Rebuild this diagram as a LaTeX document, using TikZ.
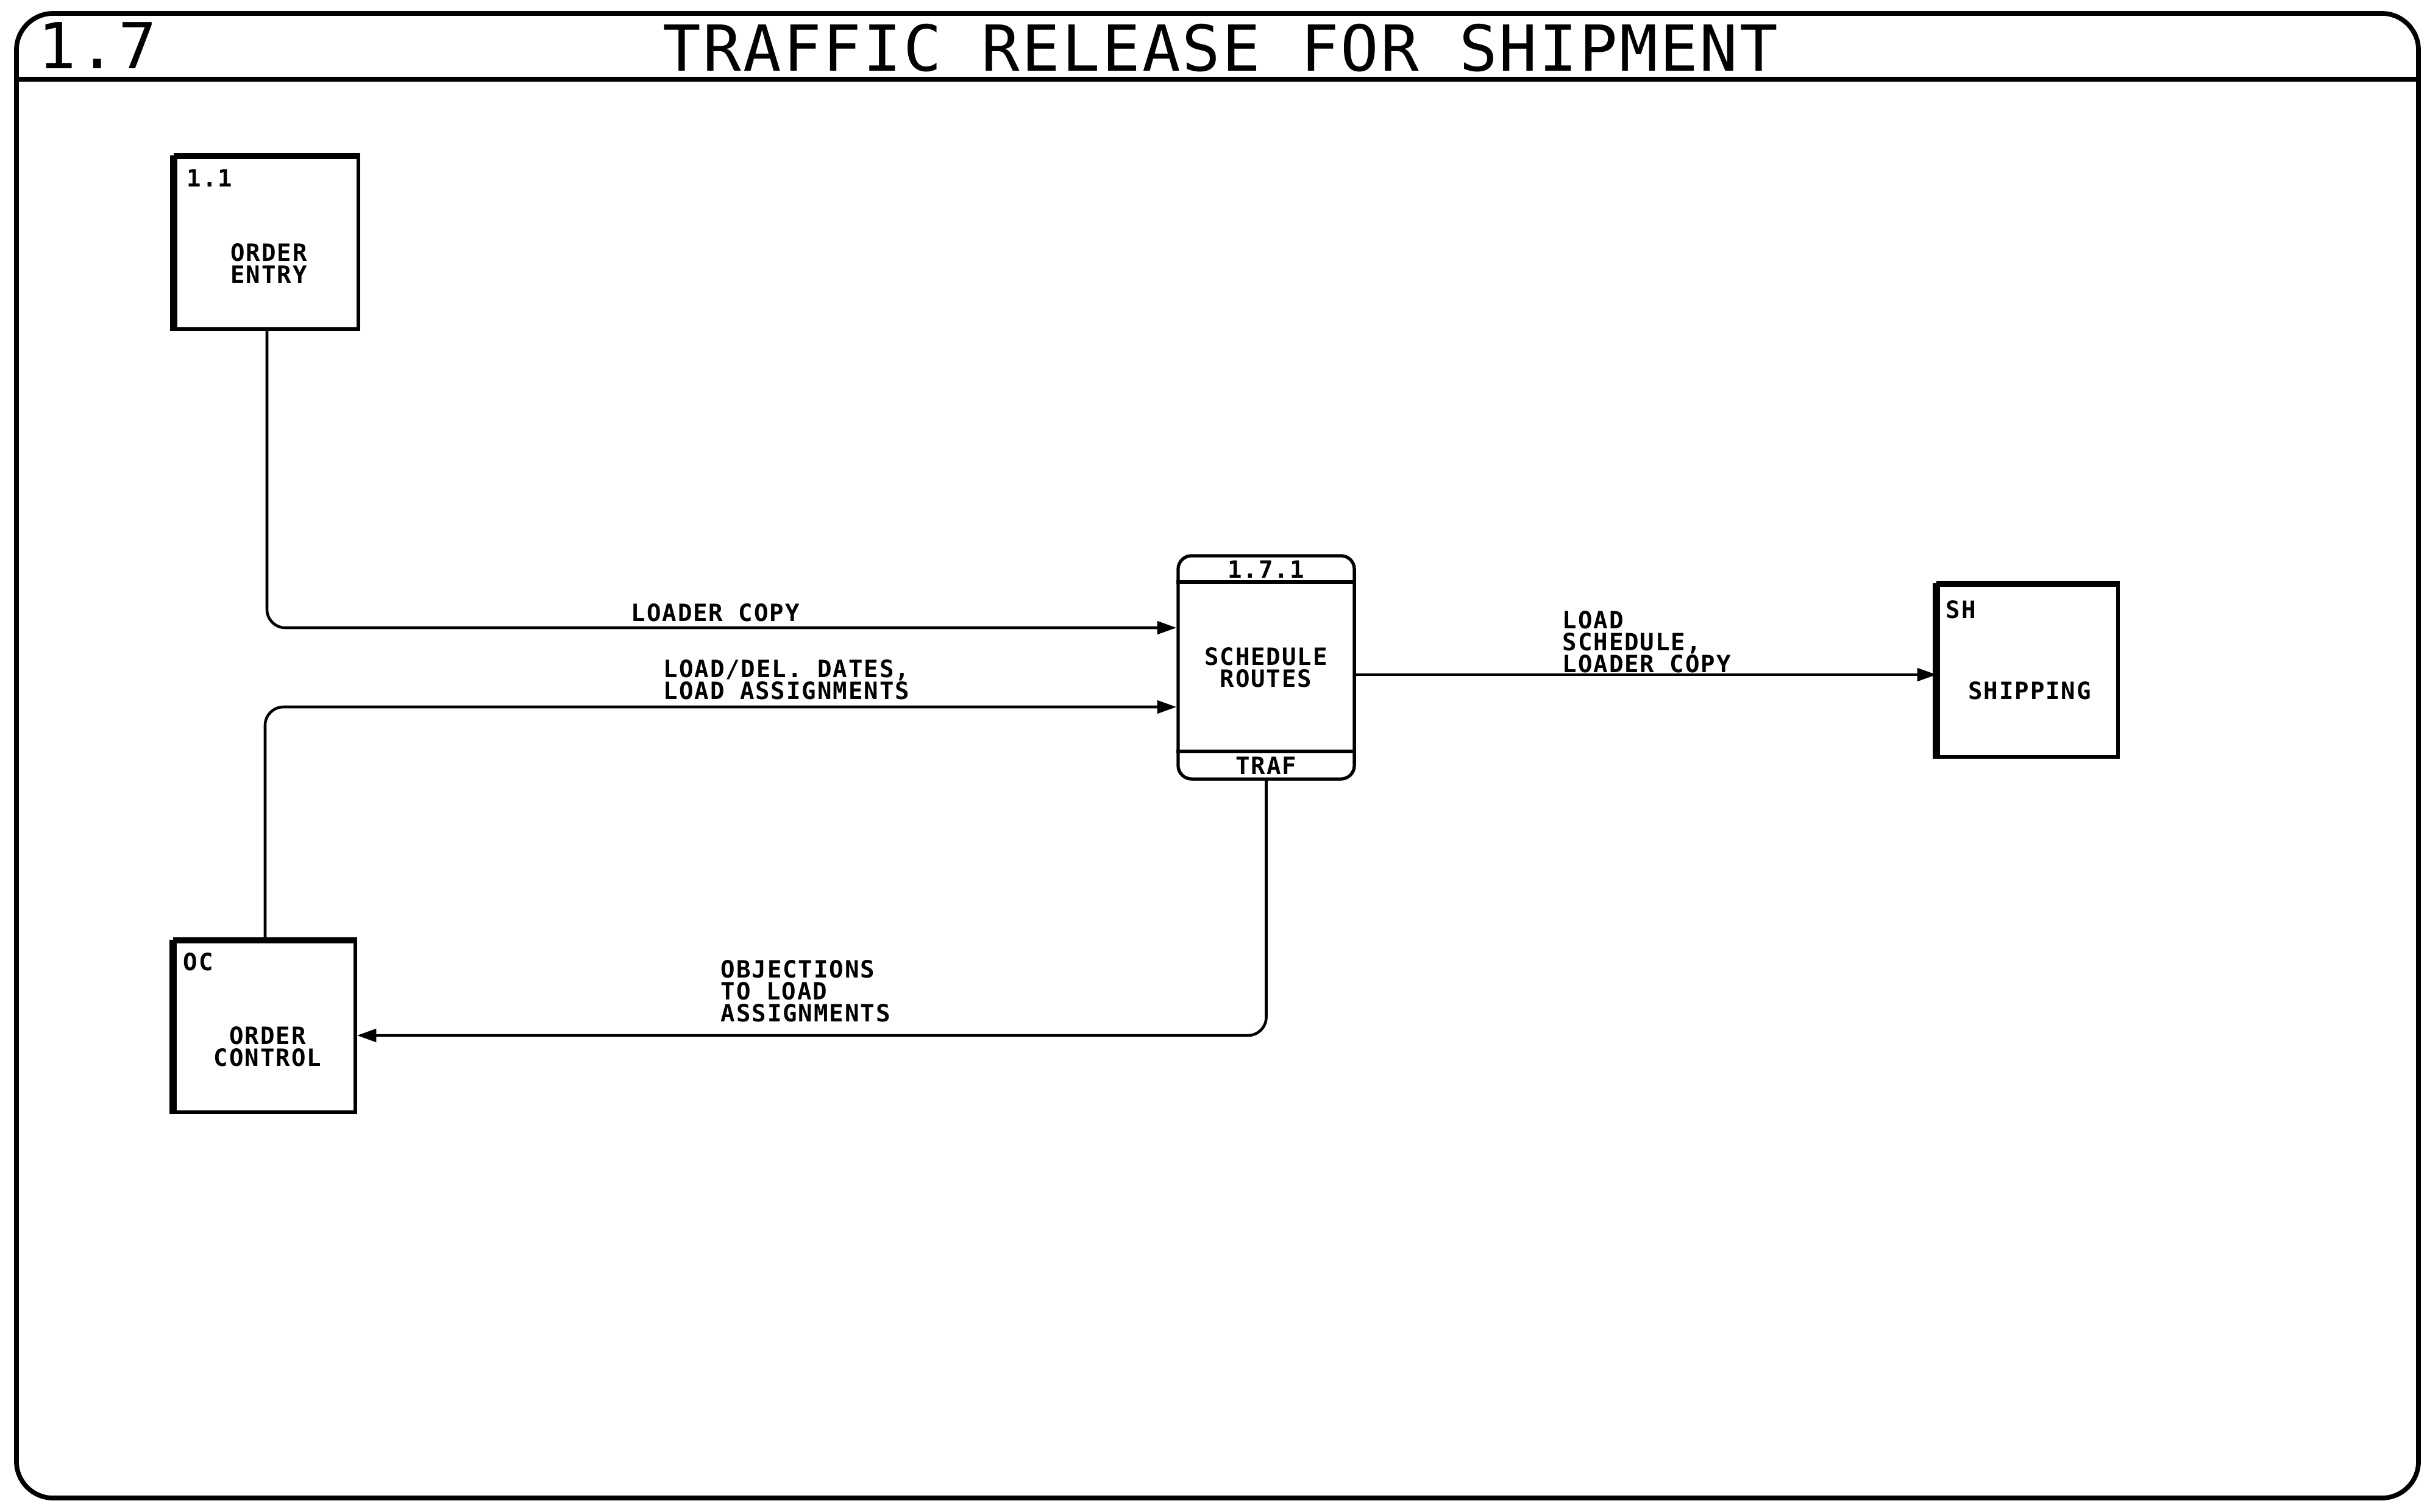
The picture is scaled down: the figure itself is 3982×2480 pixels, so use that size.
\documentclass[tikz,border=0pt]{standalone}
\usepackage{fontspec}
\usetikzlibrary{arrows.meta}
\newfontfamily\lblfont[LetterSpace=5]{DejaVu Sans Mono}
\newfontfamily\ttlfont[LetterSpace=3]{DejaVu Sans Mono}
\begin{document}
\begin{tikzpicture}[x=0.01cm,y=-0.01cm,
  lbl/.style={font=\fontsize{11.1pt}{10.24pt}\selectfont\lblfont\bfseries, inner sep=0pt, align=left},
  clbl/.style={lbl, align=center},
  ttl/.style={font=\fontsize{29.6pt}{30pt}\selectfont\ttlfont, inner sep=0pt},
  frame/.style={line width=2.2pt, rounded corners=0.6cm},
  ebox/.style={draw, line width=1.5pt, inner sep=0pt},
  pbox/.style={draw, line width=1.5pt, inner sep=0pt, rounded corners=0.22cm},
  leftedge/.style={line width=3.4pt},
  topedge/.style={line width=2.4pt},
  flow/.style={line width=1.3pt, rounded corners=0.3cm, -{Triangle[length=9pt,width=6pt]}}
]
\useasboundingbox (0,0) rectangle (3982,2480);

% outer frame and title band
\draw[frame] (27,22) rectangle (3968,2458);
\draw[line width=2.2pt] (27,130) -- (3968,130);
\node[ttl, anchor=base west] (num) at (62,112) {1.7};
\node[ttl, anchor=base west] (title) at (1087,116) {TRAFFIC RELEASE FOR SHIPMENT};

% external entity: order entry
\node[ebox, minimum width=3cm, minimum height=2.82cm] (oe) at (438,399) {};
\draw[leftedge] (oe.south west) -- (oe.north west);
\draw[topedge] (oe.north west) -- (oe.north east);
\node[lbl, anchor=north west] (oeid) at (306,277) {1.1};
\node[clbl] (oetxt) at (441,432) {ORDER\\ENTRY};

% external entity: order control
\node[ebox, minimum width=2.96cm, minimum height=2.8cm] (oc) at (435,1685) {};
\draw[leftedge] (oc.south west) -- (oc.north west);
\draw[topedge] (oc.north west) -- (oc.north east);
\node[lbl, anchor=north west] (ocid) at (300,1563) {OC};
\node[clbl] (octxt) at (439,1717) {ORDER\\CONTROL};

% external entity: shipping
\node[ebox, minimum width=2.95cm, minimum height=2.82cm] (sh) at (3327.5,1101) {};
\draw[leftedge] (sh.south west) -- (sh.north west);
\draw[topedge] (sh.north west) -- (sh.north east);
\node[lbl, anchor=north west] (shid) at (3192,985) {SH};
\node[clbl] (shtxt) at (3330,1133) {SHIPPING};

% process: schedule routes
\node[pbox, minimum width=2.89cm, minimum height=3.66cm] (sr) at (2077.5,1095) {};
\draw[line width=1.5pt] (sr.west |- 0,955) -- (sr.east |- 0,955);
\draw[line width=1.5pt] (sr.west |- 0,1233) -- (sr.east |- 0,1233);
\node[clbl] (srid) at (2077,934) {1.7.1};
\node[clbl] (srtxt) at (2077,1095) {SCHEDULE\\ROUTES};
\node[clbl] (srloc) at (2077,1256) {TRAF};

% flows
\draw[flow] (oe.south) |- (sr.west |- 0,1030);
\draw[flow] (oc.north) |- (sr.west |- 0,1160);
\draw[flow] (sr.east |- 0,1107) -- (sh.west |- 0,1107);
\draw[flow] (sr.south) |- (oc.east |- 0,1699);

% flow labels
\node[lbl, anchor=north west] (l1) at (1035,990) {LOADER COPY};
\node[lbl, anchor=north west] (l2) at (1088,1082) {LOAD/DEL. DATES,\\LOAD ASSIGNMENTS};
\node[lbl, anchor=north west] (l3) at (2563,1002) {LOAD\\SCHEDULE,\\LOADER COPY};
\node[lbl, anchor=north west] (l4) at (1182,1575) {OBJECTIONS\\TO LOAD\\ASSIGNMENTS};
\end{tikzpicture}
\end{document}
